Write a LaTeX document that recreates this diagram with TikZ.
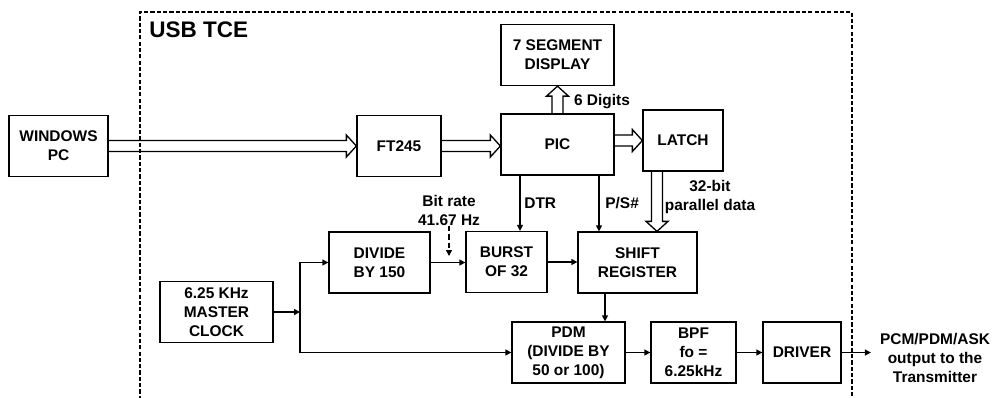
\documentclass[tikz,border=0pt]{standalone}
\usepackage{fontspec}
\setmainfont{Liberation Sans}
\usetikzlibrary{arrows.meta, calc}

\newcommand{\fatright}[2]{%
  \draw[fat] let \p1=(#1), \p2=(#2) in
    (\x1,\y1+0.11cm) -- (\x2-0.2cm,\y1+0.11cm) -- (\x2-0.2cm,\y1+0.22cm)
    -- (\x2,\y1) -- (\x2-0.2cm,\y1-0.22cm) -- (\x2-0.2cm,\y1-0.11cm)
    -- (\x1,\y1-0.11cm);}
\newcommand{\fatup}[2]{%
  \draw[fat] let \p1=(#1), \p2=(#2) in
    (\x1+0.11cm,\y1) -- (\x1+0.11cm,\y2-0.2cm) -- (\x1+0.22cm,\y2-0.2cm)
    -- (\x1,\y2) -- (\x1-0.22cm,\y2-0.2cm) -- (\x1-0.11cm,\y2-0.2cm)
    -- (\x1-0.11cm,\y1);}
\newcommand{\fatdown}[2]{%
  \draw[fat] let \p1=(#1), \p2=(#2) in
    (\x1+0.11cm,\y1) -- (\x1+0.11cm,\y2+0.2cm) -- (\x1+0.22cm,\y2+0.2cm)
    -- (\x1,\y2) -- (\x1-0.22cm,\y2+0.2cm) -- (\x1-0.11cm,\y2+0.2cm)
    -- (\x1-0.11cm,\y1);}

\begin{document}
\begin{tikzpicture}[
    x=0.02cm, y=-0.02cm,
    every node/.style={font=\fontsize{8.8}{10.8}\selectfont\bfseries},
    box/.style={
        rectangle,
        draw=black,
        line width=0.75pt,
        inner sep=2pt,
        minimum height=1.22cm,
        align=center
    },
    fat/.style={draw=black, line width=0.75pt, line join=miter},
    sig/.style={line width=0.75pt, -{Triangle[length=3.4pt, width=3.4pt]}},
    lbl/.style={align=center, inner sep=0pt}
]

\useasboundingbox (0,0) rectangle (994,397);

\node[box, minimum width=1.98cm] (pc)    at (58.5, 146)   {WINDOWS\\PC};
\node[box, minimum width=1.68cm] (ft)    at (399,  146)   {FT245};
\node[box, minimum width=2.26cm] (seg)   at (557.5, 55)   {7 SEGMENT\\DISPLAY};
\node[box, minimum width=2.26cm] (pic)   at (557.5, 144.5) {PIC};
\node[box, minimum width=1.6cm]  (latch) at (683,  140.5) {LATCH};
\node[box, minimum width=2.02cm] (div)   at (379.5, 262.5) {DIVIDE\\BY 150};
\node[box, minimum width=1.62cm] (burst) at (506.5, 262)  {BURST\\OF 32};
\node[box, minimum width=2.26cm] (clk)   at (216.5, 312)  {6.25 KHz\\MASTER\\CLOCK};
\node[box, minimum width=2.38cm] (shift) at (637.5, 262.5) {SHIFT\\REGISTER};
\node[box, minimum width=2.26cm] (pdm)   at (568.5, 352.5) {PDM\\(DIVIDE BY\\50 or 100)};
\node[box, minimum width=1.7cm]  (bpf)   at (693.5, 352.5) {BPF\\fo =\\6.25kHz};
\node[box, minimum width=1.56cm] (drv)   at (802,  352.5) {DRIVER};

\node[lbl, anchor=west, font=\fontsize{12.8}{14}\selectfont\bfseries] (title) at (149, 29.5) {USB TCE};
\node[lbl] (digits) at (602, 102) {6 Digits};
\node[lbl] (width)  at (710, 197) {32-bit\\parallel data};
\node[lbl, anchor=west] (dtrlbl) at (524, 203) {DTR};
\node[lbl, anchor=west] (pslbl)  at (605, 203) {P/S\#};
\node[lbl] (bit) at (449, 210) {Bit rate\\41.67 Hz};
\node[lbl, inner sep=5pt] (out) at (935, 358) {PCM/PDM/ASK\\output to the\\Transmitter};

\coordinate (dtr)  at (520, 0);
\coordinate (ps)   at (599, 0);
\coordinate (sp)   at (605, 0);
\coordinate (jn)   at (300, 312);
\coordinate (rate) at (449, 256);

\fatright{pc.east}{ft.west}
\fatright{ft.east}{pic.west}
\fatright{pic.east |- latch.west}{latch.west}
\fatup{pic.north}{seg.south}
\fatdown{$(latch.south)+(-26,0)$}{shift.north}

\draw[sig] (pic.south -| dtr) -- (burst.north -| dtr);
\draw[sig] (pic.south -| ps) -- (shift.north -| ps);
\draw[sig] (clk.east) -- (jn);
\draw[sig] (jn) |- (div.west);
\draw[sig] (jn) |- (pdm.west);
\draw[sig] (div.east) -- (div.east -| burst.west);
\draw[sig, densely dashed] (bit.south) -- (rate);
\draw[sig] (burst.east) -- (burst.east -| shift.west);
\draw[sig] (shift.south -| sp) -- (pdm.north -| sp);
\draw[sig] (pdm) -- (bpf);
\draw[sig] (bpf) -- (drv);
\draw[sig] (drv.east) -- (drv.east -| out.west);

\draw[line width=0.6pt, dash pattern=on 2.4pt off 1.2pt]
    (140, 400) -- (140, 12) -- (852, 12) -- (852, 400);

\end{tikzpicture}
\end{document}
